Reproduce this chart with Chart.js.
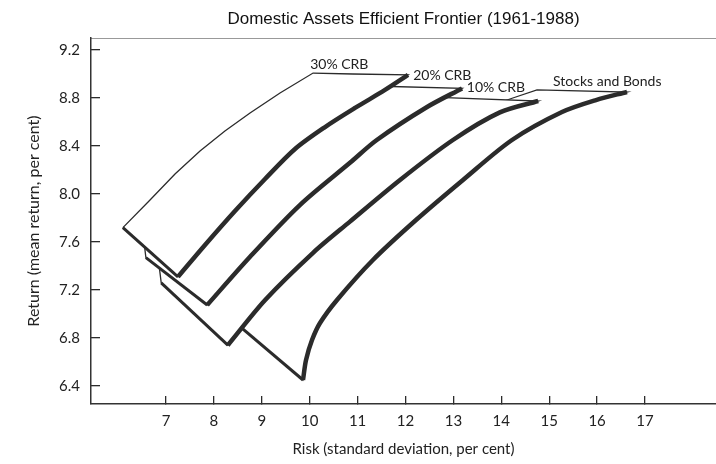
<!DOCTYPE html>
<html>
<head>
<meta charset="utf-8">
<script src="https://cdn.jsdelivr.net/npm/chart.js@4.4.1/dist/chart.umd.min.js"></script>
<style>
  html, body { margin: 0; padding: 0; background: #fff; }
</style>
</head>
<body>
<canvas id="frontier" width="716" height="464"></canvas>
<script>
// series, front ribbon first
var seriesNames = ['30% CRB', '20% CRB', '10% CRB', 'Stocks and Bonds'];

// axis ticks
var riskTicks = [7, 8, 9, 10, 11, 12, 13, 14, 15, 16, 17];
var returnTicks = [6.4, 6.8, 7.2, 7.6, 8.0, 8.4, 8.8, 9.2];

// each ribbon: lower-left corner, the frontier (min risk point up to the top end),
// and the back edge (top cap, then down to the left)
var corner30 = [6.10, 7.72];
var frontier30 = [[7.25, 7.31], [7.814, 7.575], [8.44, 7.858], [9.067, 8.125], [9.693, 8.375], [10.32, 8.558], [10.946, 8.717], [11.572, 8.867], [12.052, 8.992]];
var back30 = [[10.90, 9.00], [10.07, 9.008], [9.38, 8.842], [8.754, 8.675], [8.23, 8.525], [7.71, 8.358], [7.188, 8.167], [6.666, 7.95]];

var corner20 = [6.58, 7.47];
var frontier20 = [[7.86, 7.075], [8.75, 7.475], [9.80, 7.91], [10.84, 8.26], [11.40, 8.45], [12.45, 8.725], [13.18, 8.88]];
var back20 = [[11.30, 8.90], [10.21, 8.74], [9.17, 8.45], [8.13, 8.075], [7.19, 7.78], [6.541, 7.60]];

var corner10 = [6.90, 7.26];
var frontier10 = [[8.29, 6.74], [9.07, 7.117], [10.07, 7.51], [10.84, 7.77], [11.885, 8.117], [12.99, 8.45], [13.97, 8.68], [14.77, 8.775]];
var back10 = [[12.41, 8.81], [11.05, 8.53], [9.80, 8.117], [8.34, 7.617], [7.19, 7.49], [6.854, 7.408]];

var cornerSB = [8.59, 6.88];
var frontierSB = [[9.86, 6.45], [9.923, 6.617], [10.048, 6.783], [10.215, 6.925], [10.57, 7.117], [11.32, 7.45], [12.219, 7.783], [13.2, 8.117], [14.223, 8.45], [15.267, 8.683], [15.977, 8.783], [16.624, 8.85]];
var backSB = [[14.745, 8.867], [14.24, 8.80], [13.76, 8.733], [12.30, 8.45], [11.05, 8.03], [9.80, 7.53], [8.75, 7.075], [8.46, 6.967]];

// where the name of each ribbon is written (left end of text)
var labelAt = [[10.01, 9.083], [12.16, 8.99], [13.28, 8.89], [15.08, 8.94]];

var corners = [corner30, corner20, corner10, cornerSB];
var frontiers = [frontier30, frontier20, frontier10, frontierSB];
var backs = [back30, back20, back10, backSB];

var ink = '#2b2b2b';

function pts(list) {
  return list.map(function(p) { return {x: p[0], y: p[1]}; });
}

var datasets = [];
seriesNames.forEach(function(name, i) {
  var c = corners[i], f = frontiers[i], b = backs[i];
  // frontier, thick
  datasets.push({
    label: name,
    data: pts(f),
    showLine: true,
    borderColor: ink,
    borderWidth: 4.5,
    tension: 0.3,
    pointRadius: 0,
    order: i * 3 + 1
  });
  // bottom edge from corner to the min risk point
  datasets.push({
    label: name + ' base',
    data: pts([c, f[0]]),
    showLine: true,
    borderColor: ink,
    borderWidth: 3,
    pointRadius: 0,
    order: i * 3 + 2
  });
  // whole ribbon, white so it hides the ones behind
  datasets.push({
    label: name + ' ribbon',
    data: pts([c].concat(f, b, [c])),
    showLine: true,
    borderColor: ink,
    borderWidth: 1.3,
    backgroundColor: '#ffffff',
    fill: 'shape',
    pointRadius: 0,
    order: i * 3 + 3
  });
});

var labelPlugin = {
  id: 'ribbonLabels',
  afterDatasetsDraw: function(chart) {
    var ctx = chart.ctx, xs = chart.scales.x, ys = chart.scales.y;
    ctx.save();
    ctx.font = '14px Lato';
    ctx.fillStyle = '#222';
    ctx.textBaseline = 'middle';
    seriesNames.forEach(function(name, i) {
      ctx.fillText(name, xs.getPixelForValue(labelAt[i][0]), ys.getPixelForValue(labelAt[i][1]));
    });
    ctx.restore();
  }
};

Chart.defaults.font.family = 'Lato';
Chart.defaults.color = '#222';

var ctx = document.getElementById('frontier').getContext('2d');
var chart = new Chart(ctx, {
  type: 'scatter',
  data: { datasets: datasets },
  options: {
    responsive: false,
    animation: false,
    layout: { padding: 0 },
    plugins: {
      legend: { display: false },
      tooltip: { enabled: false }
    },
    scales: {
      x: {
        type: 'linear',
        position: 'bottom',
        min: 5.434,
        max: 18.482,
        afterBuildTicks: function(scale) {
          scale.ticks = riskTicks.map(function(v) { return {value: v}; });
        },
        afterFit: function(scale) { scale.height = 60; },
        grid: { drawOnChartArea: false, tickLength: -8, color: ink, lineWidth: 1.3 },
        border: { color: '#333', width: 1.5 },
        ticks: { font: { size: 15 }, color: '#222', padding: 16, maxRotation: 0, autoSkip: false },
        title: { display: true, text: 'Risk (standard deviation, per cent)', font: { size: 15 }, color: '#222', padding: { top: 0, bottom: 6 } }
      },
      top: {
        type: 'linear',
        position: 'top',
        min: 5.434,
        max: 18.482,
        afterFit: function(scale) { scale.height = 38; },
        grid: { display: false },
        border: { color: '#999', width: 1 },
        ticks: { display: false },
        title: { display: true, text: 'Domestic Assets Efficient Frontier (1961-1988)', font: { family: 'Liberation Sans', size: 17 }, color: '#111', padding: { top: 9, bottom: 0 } }
      },
      y: {
        type: 'linear',
        min: 6.25,
        max: 9.3,
        afterBuildTicks: function(scale) {
          scale.ticks = returnTicks.map(function(v) { return {value: v}; });
        },
        afterFit: function(scale) { scale.width = 91; },
        grid: { drawOnChartArea: false, tickLength: -9, color: ink, lineWidth: 1.3 },
        border: { color: '#333', width: 1.5 },
        ticks: {
          font: { size: 15 }, color: '#222', padding: 20,
          callback: function(v) { return Number(v).toFixed(1); }
        },
        title: { display: true, text: 'Return (mean return, per cent)', font: { size: 16 }, color: '#222', padding: { top: 24, bottom: 0 } }
      }
    }
  },
  plugins: [labelPlugin]
});
</script>
</body>
</html>
